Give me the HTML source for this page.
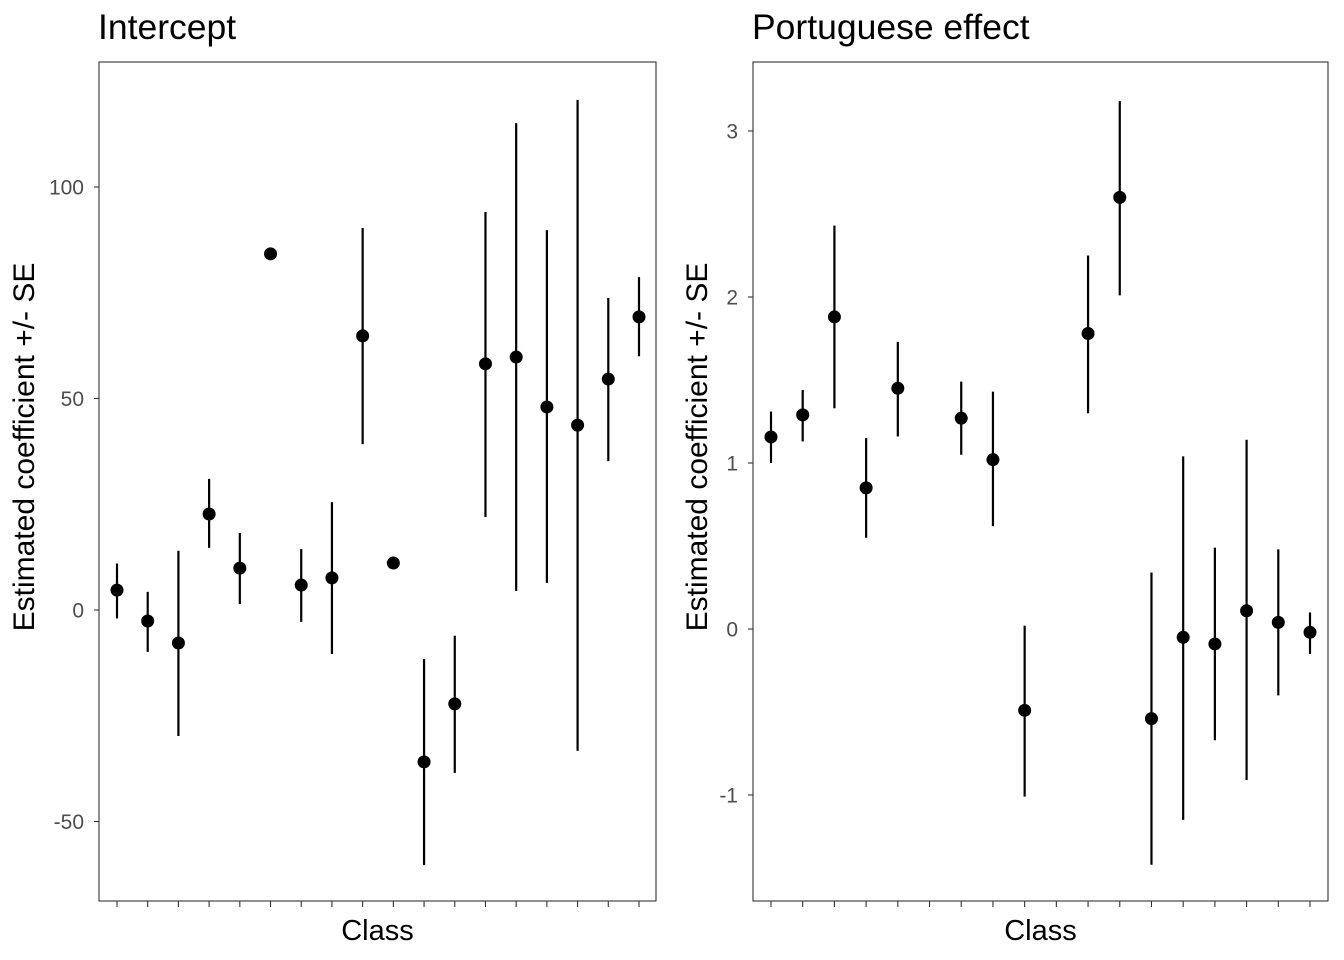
<!DOCTYPE html>
<html><head><meta charset="utf-8"><style>body{margin:0;background:#fff}svg{display:block;font-family:"Liberation Sans",Arial,sans-serif}</style></head>
<body>
<svg id="c" width="1344" height="960"></svg>
<script>
const categories=[1,2,3,4,5,6,7,8,9,10,11,12,13,14,15,16,17,18];
const interceptEst=[4.7,-2.6,-7.8,22.7,9.9,84.2,5.9,7.6,64.8,11.1,-35.9,-22.2,58.2,59.8,48,43.7,54.6,69.3];
const interceptLo=[-2,-9.9,-29.8,14.7,1.4,84.2,-2.8,-10.4,39.2,11.1,-60.3,-38.5,22,4.5,6.4,-33.3,35.2,60];
const interceptHi=[11,4.3,14,31,18.2,84.2,14.4,25.5,90.3,11.1,-11.6,-6.1,94.1,115.1,89.8,120.6,73.8,78.7];
const portEst=[1.157,1.29,1.88,0.85,1.45,null,1.27,1.02,-0.49,null,1.78,2.6,-0.54,-0.05,-0.09,0.11,0.04,-0.02];
const portLo=[1.0,1.13,1.33,0.55,1.16,null,1.05,0.62,-1.01,null,1.3,2.01,-1.42,-1.15,-0.67,-0.91,-0.4,-0.15];
const portHi=[1.31,1.44,2.43,1.15,1.73,null,1.49,1.43,0.02,null,2.25,3.18,0.34,1.04,0.49,1.14,0.48,0.10];
const leftTicks=[-50,0,50,100];
const rightTicks=[-1,0,1,2,3];
const NS="http://www.w3.org/2000/svg";
const svg=document.getElementById('c');
function el(t,a,p){const e=document.createElementNS(NS,t);for(const k in a)e.setAttribute(k,a[k]);(p||svg).appendChild(e);return e;}
function panel(o){
  const g=el('g',{});
  
  
  const t=el('text',{x:o.x0-1,y:39,'font-size':35.5,fill:'#000'},g);t.textContent=o.title;
  
  
  const r=el('rect',{x:o.x0,y:62,width:o.x1-o.x0,height:839,fill:'none',stroke:'#333','stroke-width':1.1},g);
  
  
  const xs=i=>o.xf+(o.xl-o.xf)*i/(categories.length-1);
  const ys=v=>o.y0+(v-o.v0)*(o.y1-o.y0)/(o.v1-o.v0);
  o.ticks.forEach(v=>{
    const l=el('line',{x1:o.x0-5,x2:o.x0,y1:ys(v),y2:ys(v),stroke:'#333','stroke-width':1.1},g);
    
    
    const tx=el('text',{x:o.x0-15,y:ys(v)+7.5,'font-size':21,fill:'#4d4d4d','text-anchor':'end'},g);tx.textContent=v;
    
    
  });
  categories.forEach((c,i)=>{
    const l=el('line',{x1:xs(i),x2:xs(i),y1:901,y2:907,stroke:'#333','stroke-width':1.1},g);
    
    
    if(o.est[i]==null)return;
    const e=el('line',{x1:xs(i),x2:xs(i),y1:ys(o.lo[i]),y2:ys(o.hi[i]),stroke:'#000','stroke-width':2.2},g);
    
    
    const p=el('circle',{cx:xs(i),cy:ys(o.est[i]),r:6.5,fill:'#000'},g);
    
    
  });
  const xl=el('text',{x:(o.x0+o.x1)/2,y:940,'font-size':29,'text-anchor':'middle'},g);xl.textContent='Class';
  
  
  const cy=447;
  const yl=el('text',{x:o.x0-o.ylx,y:cy,'font-size':30,'text-anchor':'middle',transform:`rotate(-90 ${o.x0-o.ylx} ${cy})`},g);yl.textContent='Estimated coefficient +/- SE';
  
  
}
panel({name:'intercept-panel',title:'Intercept',x0:99,x1:656,xf:117,xl:639,y0:610,y1:187,v0:0,v1:100,ticks:leftTicks,est:interceptEst,lo:interceptLo,hi:interceptHi,ylx:65});
panel({name:'portuguese-panel',title:'Portuguese effect',x0:753,x1:1328,xf:771,xl:1310,y0:629,y1:131,v0:0,v1:3,ticks:rightTicks,est:portEst,lo:portLo,hi:portHi,ylx:46});
</script>
</body></html>
